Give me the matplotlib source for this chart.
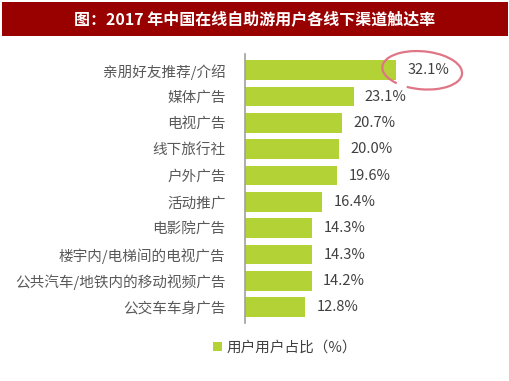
import matplotlib
matplotlib.use("Agg")
import matplotlib.pyplot as plt
from matplotlib.patches import Rectangle, Arc
from matplotlib.transforms import ScaledTranslation

plt.rcParams['font.family'] = ['Noto Sans CJK SC', 'DejaVu Sans']

# data
channels = ['亲朋好友推荐/介绍', '媒体广告', '电视广告', '线下旅行社', '户外广告',
            '活动推广', '电影院广告', '楼宇内/电梯间的电视广告',
            '公共汽车/地铁内的移动视频广告', '公交车车身广告']
share = [32.1, 23.1, 20.7, 20.0, 19.6, 16.4, 14.3, 14.3, 14.2, 12.8]
title = '图：2017 年中国在线自助游用户各线下渠道触达率'
legend_label = '用户用户占比（%）'

bar_color = '#b3d235'
W, H = 510, 381

fig = plt.figure(figsize=(5.1, 3.81), dpi=100)

# title banner
fig.patches.append(Rectangle((2 / W, 1 - 36 / H), 506 / W, 34 / H,
                             transform=fig.transFigure, facecolor='#990000',
                             edgecolor='none'))
fig.text(0.5, 1 - 19 / H, title, color='white', fontsize=11.5, fontweight='bold',
         ha='center', va='center')

ax = fig.add_axes([245 / W, 1 - 323 / H, 235 / W, 268.5 / H])
pos = list(range(len(channels)))
bars = ax.barh(pos, share, height=0.75, color=bar_color, label=legend_label)
ax.set_ylim(9.6, -0.6)
ax.set_xlim(0, 50)
ax.set_yticks(pos)
ax.set_yticklabels(channels, fontsize=10.5, color='#595959')
ax.tick_params(axis='y', length=0, pad=14)
ax.set_xticks([])
for s in ['top', 'right', 'bottom']:
    ax.spines[s].set_visible(False)
ax.spines['left'].set_color('#a0a0a0')
ax.spines['left'].set_linewidth(1.2)

for p, v in zip(pos, share):
    ax.text(v + 2.4, p, f'{v:.1f}%', va='center', ha='left', fontsize=10.5,
            color='#404040')

# hand drawn highlight around the top value (sized in inches, placed in data)
ring_tr = fig.dpi_scale_trans + ScaledTranslation(share[0] + 5.6, 0.0, ax.transData)
ax.add_patch(Arc((0, 0), 0.80, 0.38, angle=-5, theta1=232, theta2=572,
                 color='#e07585', lw=1.6, transform=ring_tr, clip_on=False))

fig.legend(handles=[bars], labels=[legend_label], loc='center',
           bbox_to_anchor=(285 / W, 1 - 348 / H), frameon=False, fontsize=10.5,
           handlelength=0.6, handleheight=0.6, handletextpad=0.3,
           labelcolor='#404040')

fig.savefig('out.png', dpi=100)
